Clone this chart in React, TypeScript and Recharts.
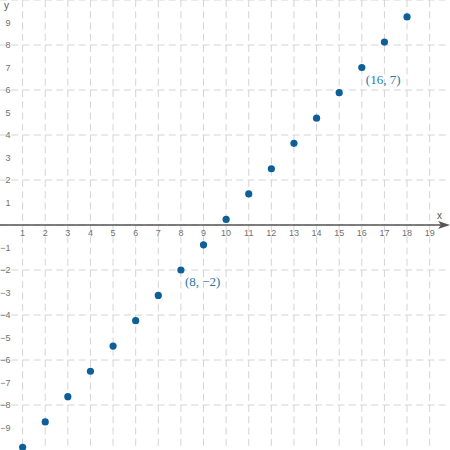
import { ScatterChart, Scatter, XAxis, YAxis, CartesianGrid, ReferenceLine } from "recharts";

const xs = [1, 2, 3, 4, 5, 6, 7, 8, 9, 10, 11, 12, 13, 14, 15, 16, 17, 18];
const ys = [-9.88, -8.75, -7.63, -6.5, -5.38, -4.25, -3.13, -2, -0.88, 0.25, 1.38, 2.5, 3.63, 4.75, 5.88, 7, 8.13, 9.25];
const xTickLabels = [1, 2, 3, 4, 5, 6, 7, 8, 9, 10, 11, 12, 13, 14, 15, 16, 17, 18, 19];
const yTickLabels = [-9, -8, -7, -6, -5, -4, -3, -2, -1, 1, 2, 3, 4, 5, 6, 7, 8, 9];
const gridX = [0, 1, 2, 3, 4, 5, 6, 7, 8, 9, 10, 11, 12, 13, 14, 15, 16, 17, 18, 19];
const gridY = [-10, -9, -8, -7, -6, -5, -4, -3, -2, -1, 0, 1, 2, 3, 4, 5, 6, 7, 8, 9, 10];
const labelled = [
  { x: 8, y: -2, text: "(8, \u22122)" },
  { x: 16, y: 7, text: "(16, 7)" },
];

const points = xs.map((x, i) => ({ x, y: ys[i] }));
const xTicks = xTickLabels.map((v) => ({ x: v, y: 0 }));
const yTicks = yTickLabels.map((v) => ({ x: 0, y: v }));

const BLUE = "#0d5f98";
const TICK = "#707070";
const fmt = (v: number) => (v < 0 ? "\u2212" + Math.abs(v) : String(v));

export default function App() {
  return (
    <div style={{ position: "absolute", left: 0, top: 0, width: 450, height: 450, background: "#fff" }}>
      <style>{`body{margin:0}`}</style>
      <ScatterChart width={450} height={450} margin={{ top: 0, right: 0, bottom: 0, left: 0 }}>
        <XAxis type="number" dataKey="x" domain={[0, 19.9]} ticks={gridX} hide />
        <YAxis type="number" dataKey="y" domain={[-10, 10]} ticks={gridY} hide />
        <CartesianGrid
          stroke="#d4d4d4"
          strokeDasharray="7 4.25"
          horizontalValues={gridY}
          verticalValues={gridX}
        />
        <ReferenceLine
          y={0}
          shape={(p: any) => (
            <g>
              <line x1={p.x1} y1={p.y1} x2={p.x2 - 4} y2={p.y2} stroke="#555" strokeWidth={1.3} />
              <polygon
                points={`${p.x2},${p.y2} ${p.x2 - 12},${p.y2 - 4} ${p.x2 - 9},${p.y2} ${p.x2 - 12},${p.y2 + 4}`}
                fill="#555"
              />
            </g>
          )}
        />
        <Scatter
          data={xTicks}
          isAnimationActive={false}
          shape={(p: any) => (
            <text x={p.cx} y={p.cy + 11} textAnchor="middle" fontSize={9} fill={TICK} fontFamily="Liberation Sans">
              {fmt(p.payload.x)}
            </text>
          )}
        />
        <Scatter
          data={yTicks}
          isAnimationActive={false}
          shape={(p: any) => (
            <text x={p.cx + 10.5} y={p.cy + 3.2} textAnchor="end" fontSize={9} fill={TICK} fontFamily="Liberation Sans">
              {fmt(p.payload.y)}
            </text>
          )}
        />
        <Scatter
          data={points}
          isAnimationActive={false}
          shape={(p: any) => <circle cx={p.cx} cy={p.cy} r={3.6} fill={BLUE} />}
        />
        <Scatter
          data={labelled}
          isAnimationActive={false}
          shape={(p: any) => (
            <text x={p.cx + 4} y={p.cy + 16} fontSize={13} fill="#2a77ad" fontFamily="Liberation Serif">
              {p.payload.text}
            </text>
          )}
        />
      </ScatterChart>
      <div style={{ position: "absolute", left: 4, top: 0, fontSize: 10, color: "#555", fontFamily: "Liberation Sans" }}>y</div>
      <div style={{ position: "absolute", left: 437, top: 210, fontSize: 10, color: "#555", fontFamily: "Liberation Sans" }}>x</div>
    </div>
  );
}
